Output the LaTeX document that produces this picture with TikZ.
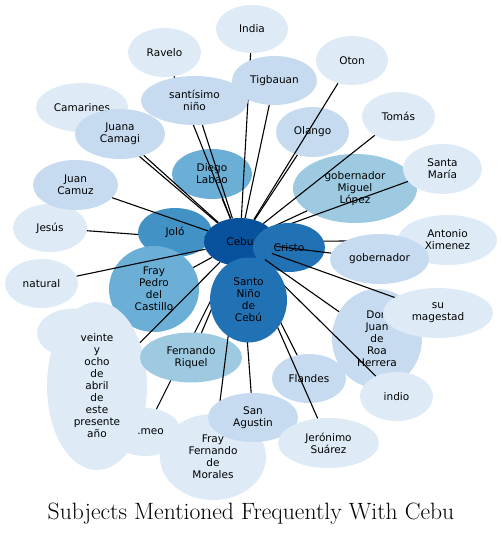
\documentclass[tikz,border=0pt]{standalone}
\usepackage{fontspec}
\usetikzlibrary{shapes.geometric}
\newfontfamily\dejavu{DejaVu Sans}
\definecolor{cA}{HTML}{08519C}
\definecolor{cB}{HTML}{2171B5}
\definecolor{cC}{HTML}{4292C6}
\definecolor{cD}{HTML}{6BAED6}
\definecolor{cE}{HTML}{9ECAE1}
\definecolor{cF}{HTML}{C6DBEF}
\definecolor{cG}{HTML}{DEEBF7}
\begin{document}
\begin{tikzpicture}[x=1pt,y=-1pt,
  nd/.style={ellipse, inner sep=0pt, draw=none, align=center, text=black,
    font=\dejavu\fontsize{10.5}{12}\selectfont},
  sz/.style 2 args={minimum width=#1pt, minimum height=#2pt},
  link/.style={draw=black, line width=1.1pt},
  ttl/.style={font=\fontsize{23.6}{28}\selectfont, inner sep=0pt}]
\useasboundingbox (0,0) rectangle (502,536);
% hub (outline only, used for connectors)
\node[nd, sz={72}{48}] (cebu) at (240,242) {};
% outer nodes, each followed by its connector
\node[nd, fill=cD, sz={80}{50}] (diego) at (212,174) {Diego\\Labao};
\draw[link] (cebu) -- (diego);
\node[nd, fill=cG, sz={72}{48}] (india) at (252,29) {India};
\draw[link] (cebu) -- (india);
\node[nd, fill=cF, sz={85}{49}] (tigbauan) at (274.5,80.5) {Tigbauan};
\draw[link] (cebu) -- (tigbauan);
\node[nd, fill=cG, sz={73}{49}] (ravelo) at (164.5,52.5) {Ravelo};
\draw[link] (cebu) -- (ravelo);
\node[nd, fill=cF, sz={107}{49}] (santisimo) at (194.5,100.5) {santísimo\\niño};
\draw[link] (cebu) -- (santisimo);
\node[nd, fill=cG, sz={92}{49}] (camarines) at (82,107.5) {Camarines};
\draw[link] (cebu) -- (camarines);
\node[nd, fill=cF, sz={90}{50}] (juana) at (120,134) {Juana\\Camagi};
\draw[link] (cebu) -- (juana);
\node[nd, fill=cF, sz={73}{50}] (olango) at (312.5,132) {Olango};
\draw[link] (cebu) -- (olango);
\node[nd, fill=cG, sz={72}{49}] (oton) at (352,60.5) {Oton};
\draw[link] (cebu) -- (oton);
\node[nd, fill=cE, sz={124}{69}] (gobml) at (355,188.5) {gobernador\\Miguel\\López};
\draw[link] (cebu) -- (gobml);
\node[nd, fill=cG, sz={73}{49}] (tomas) at (398.5,116.5) {Tomás};
\draw[link] (cebu) -- (tomas);
\node[nd, fill=cG, sz={79}{50}] (santamaria) at (442.5,169) {Santa\\María};
\draw[link] (cebu) -- (santamaria);
\node[nd, fill=cG, sz={74}{48}] (jesus) at (50,228) {Jesús};
\draw[link] (cebu) -- (jesus);
\node[nd, fill=cC, sz={74}{49}] (jolo) at (175,232.5) {Joló};
\draw[link] (cebu) -- (jolo);
\node[nd, fill=cF, sz={85}{50}] (juancamuz) at (75.5,185) {Juan\\Camuz};
\draw[link] (cebu) -- (juancamuz);
\node[nd, fill=cD, sz={90}{86}] (fraypedro) at (154,289) {Fray\\Pedro\\del\\Castillo};
\draw[link] (cebu) -- (fraypedro);
\node[nd, fill=cG, sz={73}{49}] (natural) at (41.5,283.5) {natural};
\draw[link] (cebu) -- (natural);
\node[nd, fill=cG, sz={72}{48}] (romeo) at (145,432) {};
\draw[link] (cebu) -- (romeo);
\node[nd, fill=cG, sz={74}{49}] (hiddenblob) at (74,333) {};
\node[nd, fill=cG, sz={100}{168}] (veinte) at (97,386) {veinte\\y\\ocho\\de\\abril\\de\\este\\presente\\año};
\draw[link] (cebu) -- (veinte);
\node[nd] (romeolbl) at (150.5,432) {.meo};
\node[nd, fill=cE, sz={102}{50}] (fernando) at (191,357.5) {Fernando\\Riquel};
\draw[link] (cebu) -- (fernando);
\node[nd, fill=cG, sz={106}{86}] (frayfernando) at (213,457) {Fray\\Fernando\\de\\Morales};
\draw[link] (cebu) -- (frayfernando);
\node[nd, fill=cF, sz={90}{49}] (sanagustin) at (253,417.5) {San\\Agustin};
\draw[link] (cebu) -- (sanagustin);
\node[nd, fill=cF, sz={74}{49}] (flandes) at (309,378.5) {Flandes};
\draw[link] (cebu) -- (flandes);
\node[nd, fill=cG, sz={101}{50}] (jeronimo) at (328.5,443) {Jerónimo\\Suárez};
\draw[link] (cebu) -- (jeronimo);
\node[nd, fill=cG, sz={99}{50}] (antonio) at (447.5,240) {Antonio\\Ximenez};
\draw[link] (cebu) -- (antonio);
% hub drawn
\node[nd, fill=cA, sz={72}{48}] (cebutxt) at (cebu) {Cebu};
\node[nd, fill=cB, sz={72}{49}] (cristo) at (289,247.5) {Cristo};
\node[nd, fill=cF, sz={90}{99}] (donjuan) at (377,338.5) {Don\\Juan\\de\\Roa\\Herrera};
\draw[link] (cebu) -- (donjuan);
\node[nd, fill=cG, sz={110}{50}] (sumagestad) at (438,313) {su\\magestad};
\draw[link] (cebu) -- (sumagestad);
\node[nd, fill=cG, sz={73}{49}] (indio) at (396.5,396.5) {indio};
\draw[link] (cebu) -- (indio);
\node[nd, fill=cF, sz={99}{50}] (gobernador) at (379.5,259) {gobernador};
\draw[link] (cebu) -- (gobernador);
\node[nd, fill=cB, sz={77}{85}] (santonino) at (248.5,300) {Santo\\Niño\\de\\Cebú};
% title
\node[ttl] (title) at (251,514) {Subjects Mentioned Frequently With Cebu};
\end{tikzpicture}
\end{document}
